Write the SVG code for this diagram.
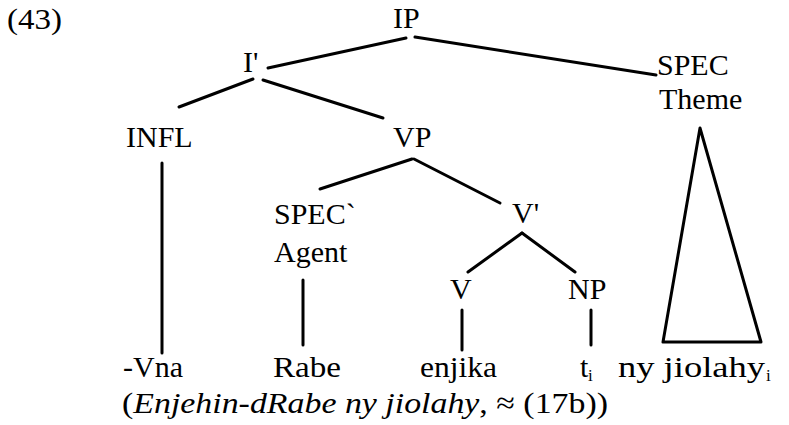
<svg xmlns="http://www.w3.org/2000/svg" width="789" height="425" viewBox="0 0 789 425">
<style>
text{font-family:"Liberation Serif","Times New Roman",serif;font-size:30px;fill:#000}
.e{stroke:#000;stroke-width:3;fill:none;stroke-linecap:round;stroke-linejoin:round}
.i{font-style:italic}
.sub{font-size:17px}
</style>
<rect width="789" height="425" fill="#fff"/>
<text x="7" y="29" textLength="55" lengthAdjust="spacingAndGlyphs">(43)</text>
<g id="IP"><text x="393" y="28">IP</text></g>
<g id="Ibar"><text x="243" y="72">I'</text></g>
<g id="SPECtheme"><text x="657" y="75">SPEC</text><text x="659" y="109">Theme</text></g>
<g id="INFL"><text x="126" y="147">INFL</text></g>
<g id="VP"><text x="393" y="147">VP</text></g>
<g id="SPECagent"><text x="274" y="224">SPEC`</text><text x="274" y="262">Agent</text></g>
<g id="Vbar"><text x="512" y="223">V'</text></g>
<g id="V"><text x="450" y="299">V</text></g>
<g id="NP"><text x="568" y="299">NP</text></g>
<g id="Vna"><text x="123" y="377">-Vna</text></g>
<g id="Rabe"><text x="273" y="377" textLength="68" lengthAdjust="spacingAndGlyphs">Rabe</text></g>
<g id="enjika"><text x="420" y="377" textLength="77" lengthAdjust="spacingAndGlyphs">enjika</text></g>
<g id="ti"><text x="580" y="377">t</text><text class="sub" x="588" y="381">i</text></g>
<g id="nyjiolahy"><text x="618" y="377" textLength="147" lengthAdjust="spacingAndGlyphs">ny jiolahy</text><text class="sub" x="766" y="381">i</text></g>
<g id="gloss"><text x="122" y="413" textLength="486" lengthAdjust="spacingAndGlyphs">(<tspan class="i">Enjehin-dRabe ny jiolahy</tspan>, ≈ (17b))</text></g>
<g id="connectors">
<line class="e" x1="406" y1="38" x2="268" y2="68"/>
<line class="e" x1="415" y1="37" x2="656" y2="75"/>
<line class="e" x1="253" y1="79" x2="179" y2="107"/>
<line class="e" x1="263" y1="80" x2="383" y2="118"/>
<line class="e" x1="162" y1="163" x2="162" y2="353"/>
<line class="e" x1="412" y1="159" x2="320" y2="189"/>
<line class="e" x1="414" y1="159" x2="500" y2="203"/>
<line class="e" x1="303" y1="280" x2="303" y2="345"/>
<line class="e" x1="522" y1="233" x2="468" y2="272"/>
<line class="e" x1="522" y1="233" x2="575" y2="272"/>
<line class="e" x1="462" y1="310" x2="462" y2="350"/>
<line class="e" x1="591" y1="310" x2="591" y2="345"/>
<polygon class="e" points="700,128 663,342 761,342"/>
</g>
</svg>
